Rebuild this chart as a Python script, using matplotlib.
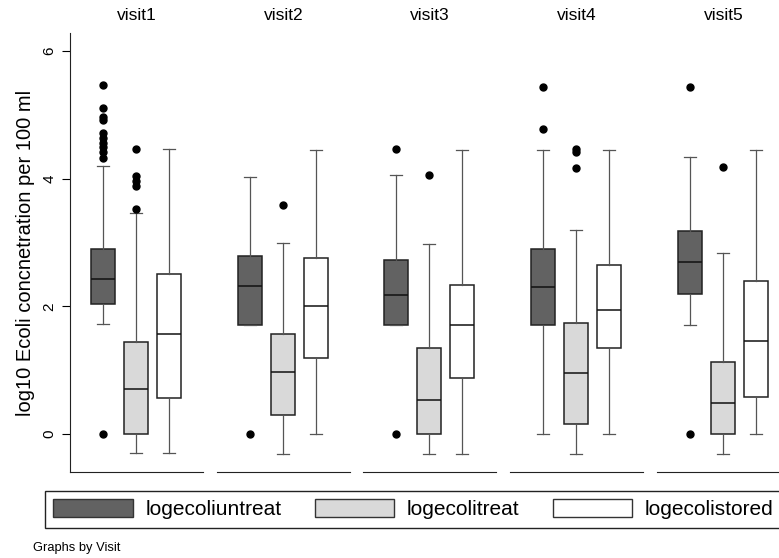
import numpy as np
import matplotlib.pyplot as plt
from matplotlib.patches import Patch

plt.rcParams['font.family'] = ['Liberation Sans', 'DejaVu Sans']

visits = ['visit1', 'visit2', 'visit3', 'visit4', 'visit5']
series = ['logecoliuntreat', 'logecolitreat', 'logecolistored']
fills = ['#626262', '#d9d9d9', '#ffffff']

# box stats per visit: [lower whisker, q1, median, q3, upper whisker]
untreat = [
    [1.72, 2.03, 2.42, 2.90, 4.19],
    [1.71, 1.71, 2.32, 2.79, 4.02],
    [1.71, 1.71, 2.17, 2.72, 4.06],
    [0.00, 1.70, 2.31, 2.89, 4.44],
    [1.70, 2.19, 2.70, 3.18, 4.34],
]
treat = [
    [-0.30, 0.00, 0.70, 1.44, 3.46],
    [-0.31, 0.30, 0.97, 1.56, 2.99],
    [-0.31, 0.00, 0.53, 1.35, 2.98],
    [-0.31, 0.16, 0.96, 1.74, 3.20],
    [-0.31, 0.00, 0.49, 1.13, 2.83],
]
stored = [
    [-0.30, 0.56, 1.57, 2.50, 4.46],
    [0.00, 1.19, 2.01, 2.75, 4.45],
    [-0.31, 0.87, 1.71, 2.34, 4.45],
    [0.00, 1.35, 1.94, 2.64, 4.44],
    [0.00, 0.58, 1.45, 2.40, 4.44],
]
out_untreat = [
    [0.0, 4.33, 4.41, 4.49, 4.56, 4.64, 4.72, 4.92, 4.97, 5.11, 5.46],
    [0.0],
    [0.0, 4.47],
    [4.78, 5.43],
    [0.0, 5.43],
]
out_treat = [
    [3.52, 3.89, 3.97, 4.04, 4.47],
    [3.59],
    [4.06],
    [4.16, 4.42, 4.47],
    [4.18],
]
out_stored = [[], [], [], [], []]

data = [untreat, treat, stored]
outliers = [out_untreat, out_treat, out_stored]

W, H = 779, 558
fig = plt.figure(figsize=(W / 100, H / 100), dpi=100)

lefts = [70, 217, 363, 510, 657]
for i, v in enumerate(visits):
    ax = fig.add_axes([lefts[i] / W, 1 - 472 / H, 133 / W, (472 - 33) / H])
    stats = []
    for k in range(3):
        lo, q1, med, q3, hi = data[k][i]
        stats.append(dict(whislo=lo, q1=q1, med=med, q3=q3, whishi=hi,
                          fliers=outliers[k][i]))
    bp = ax.bxp(stats, positions=[1, 2, 3], widths=0.72, patch_artist=True,
                boxprops=dict(linewidth=1.1, edgecolor='#222222'),
                medianprops=dict(color='#111111', linewidth=1.1),
                whiskerprops=dict(color='#555555', linewidth=0.9),
                capprops=dict(color='#555555', linewidth=0.9),
                capwidths=0.35,
                flierprops=dict(marker='o', markerfacecolor='black',
                                markeredgecolor='black', markersize=5))
    for patch, c in zip(bp['boxes'], fills):
        patch.set_facecolor(c)
    ax.set_xlim(0, 4.03)
    ax.set_ylim(-0.595, 6.28)
    ax.set_title(v, fontsize=12.5, pad=9)
    ax.set_xticks([])
    for s in ['top', 'right']:
        ax.spines[s].set_visible(False)
    ax.spines['bottom'].set_color('#222222')
    if i == 0:
        ax.set_yticks([0, 2, 4, 6])
        ax.set_yticklabels(['0', '2', '4', '6'], rotation=90, va='center',
                           fontsize=11)
        ax.tick_params(axis='y', length=5.8, pad=4)
        ax.set_ylabel('log10 Ecoli concnetration per 100 ml', fontsize=14.5,
                      labelpad=5)
        ax.spines['left'].set_color('#222222')
    else:
        ax.spines['left'].set_visible(False)
        ax.set_yticks([])

handles = [Patch(facecolor=c, edgecolor='#333333') for c in fills]
fig.legend(handles, series, loc='upper left', ncol=3,
           bbox_to_anchor=(45 / W, 1 - 491 / H),
           fontsize=15, handlelength=3.8, handleheight=0.9,
           handletextpad=0.62, columnspacing=1.6, borderpad=0.4,
           fancybox=False, edgecolor='#222222', framealpha=1,
           borderaxespad=0)

fig.text(33 / W, 1 - 548 / H, 'Graphs by Visit', fontsize=9.3, va='center')

fig.savefig('out.png', dpi=100)
